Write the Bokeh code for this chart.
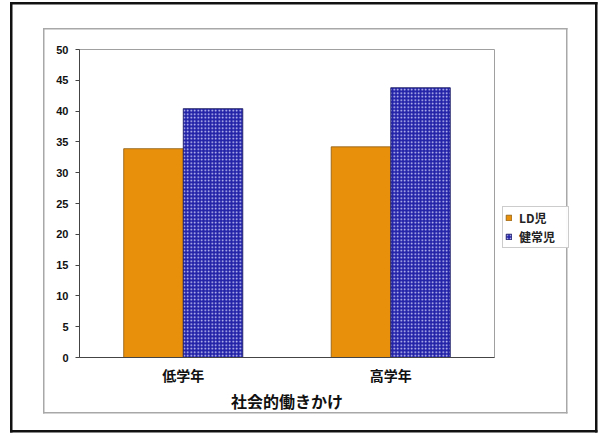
from bokeh.plotting import figure
from bokeh.models import FactorRange, ColumnDataSource, Legend, LegendItem
from bokeh.transform import dodge
from bokeh.embed import file_html
from bokeh.resources import INLINE

categories = ["低学年", "高学年"]
series_names = ["LD児", "健常児"]
ld_values = [33.9, 34.2]
healthy_values = [40.4, 43.8]
y_ticks = [0, 5, 10, 15, 20, 25, 30, 35, 40, 45, 50]
x_title = "社会的働きかけ"

src = ColumnDataSource(dict(cat=categories, ld=ld_values, hl=healthy_values))

JP = "Noto Sans CJK JP"


def hline(color, x, y, w, t):
    return f"linear-gradient({color},{color}) {x}px {y}px / {w}px {t}px no-repeat"


def box(color, x0, y0, x1, y1, t):
    return [hline(color, x0, y0, x1 - x0 + t, t), hline(color, x0, y1, x1 - x0 + t, t),
            hline(color, x0, y0, t, y1 - y0 + t), hline(color, x1, y0, t, y1 - y0 + t)]


bg_layers = box("#111111", 10, 2, 595, 430, 2.5) + box("#a8a8a8", 43, 28, 566, 412, 1.5)

p = figure(frame_width=415, frame_height=308, x_range=FactorRange(*categories), y_range=(0, 50),
           output_backend="svg", toolbar_location=None,
           min_border_left=79, min_border_right=104, min_border_top=49, min_border_bottom=79)
p.background_fill_color = "white"
p.border_fill_color = None
p.styles = {"background": ", ".join(bg_layers) + ", white"}
p.outline_line_color = "#a0a0a0"
p.outline_line_width = 1
p.xgrid.visible = False
p.ygrid.visible = False

bw = 0.287
r1 = p.vbar(x=dodge("cat", -bw / 2, range=p.x_range), top="ld", width=bw, source=src,
            fill_color="#E8900C", line_color="#8a5a10", line_width=0.8)
r2 = p.vbar(x=dodge("cat", bw / 2, range=p.x_range), top="hl", width=bw, source=src,
            fill_color="#2323A8", line_color="#1a1a60", line_width=0.8,
            hatch_pattern="dot", hatch_color="#d8d8ff", hatch_scale=3.5, hatch_weight=1.3)

p.yaxis.ticker = y_ticks
p.yaxis.axis_line_color = "#444444"
p.yaxis.major_tick_line_color = "#444444"
p.yaxis.major_tick_out = 4
p.yaxis.major_tick_in = 0
p.yaxis.minor_tick_line_color = None
p.yaxis.major_label_text_font = "Liberation Sans"
p.yaxis.major_label_text_font_style = "bold"
p.yaxis.major_label_text_font_size = "11px"
p.yaxis.major_label_text_color = "#111111"
p.yaxis.major_label_standoff = 7

p.xaxis.axis_line_color = "#444444"
p.xaxis.major_tick_line_color = None
p.xaxis.major_label_text_font = JP
p.xaxis.major_label_text_font_style = "bold"
p.xaxis.major_label_text_font_size = "14px"
p.xaxis.major_label_text_color = "#111111"
p.xaxis.major_label_standoff = 1
p.xaxis.axis_label = x_title
p.xaxis.axis_label_text_font = JP
p.xaxis.axis_label_text_font_style = "bold"
p.xaxis.axis_label_text_font_size = "16px"
p.xaxis.axis_label_text_color = "#111111"
p.xaxis.axis_label_standoff = 1

legend = Legend(items=[LegendItem(label=series_names[0], renderers=[r1]),
                       LegendItem(label=series_names[1], renderers=[r2])],
                location=(8, 109))
legend.label_text_font = JP
legend.label_text_font_style = "bold"
legend.label_text_font_size = "12px"
legend.label_text_color = "#222222"
legend.glyph_width = 7
legend.glyph_height = 7
legend.label_standoff = 7
legend.label_width = 47
legend.label_height = 16
legend.spacing = 2
legend.padding = 2
legend.margin = 0
legend.border_line_color = "#999999"
legend.background_fill_color = "white"
p.add_layout(legend, "right")

open("out.html", "w").write(file_html(p, INLINE))
